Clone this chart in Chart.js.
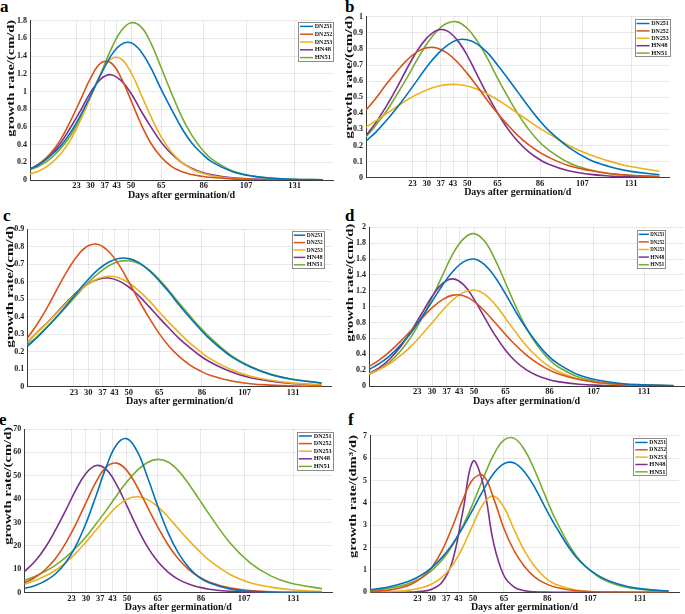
<!DOCTYPE html>
<html>
<head>
<meta charset="utf-8">
<script src="https://cdn.jsdelivr.net/npm/chart.js@4.4.1/dist/chart.umd.min.js"></script>
<style>
body{margin:0;width:685px;height:614px;position:relative;overflow:hidden;background:#fff;font-family:"Liberation Serif",serif}
canvas{position:absolute}
.lt{position:absolute;font-weight:bold;font-size:17px;line-height:17px;color:#000}
</style>
</head>
<body>
<div class="lt" style="left:0px;top:-2px">a</div>
<div class="lt" style="left:345px;top:-2px">b</div>
<div class="lt" style="left:3px;top:207px">c</div>
<div class="lt" style="left:345px;top:207px">d</div>
<div class="lt" style="left:-1px;top:411px">e</div>
<div class="lt" style="left:348px;top:411px">f</div>
<script>
const days = [0,5,10,15,20,25,30,35,40,45,50,55,60,65,70,75,80,85,90,100,110,120,130,145];
const xTickDays = [23,30,37,43,50,65,86,107,131];
const varieties = ["DN251","DN252","DN253","HN48","HN51"];

// panel a
const aDN251 = [0.125,0.184,0.27,0.38,0.535,0.73,0.955,1.19,1.40,1.53,1.55,1.45,1.26,1.02,0.80,0.59,0.42,0.30,0.205,0.097,0.044,0.02,0.009,0.003];
const aDN252 = [0.118,0.19,0.295,0.45,0.665,0.905,1.15,1.32,1.325,1.16,0.90,0.63,0.41,0.257,0.155,0.095,0.062,0.042,0.029,0.013,0.006,0.003,0.001,0];
const aDN253 = [0.067,0.108,0.18,0.29,0.45,0.675,0.935,1.20,1.365,1.37,1.215,0.966,0.71,0.484,0.317,0.203,0.125,0.078,0.048,0.018,0.0065,0.002,0.001,0];
const aHN48 = [0.12,0.188,0.283,0.414,0.59,0.785,0.99,1.14,1.19,1.125,0.98,0.78,0.595,0.425,0.296,0.20,0.134,0.088,0.058,0.025,0.0105,0.004,0.002,0];
const aHN51 = [0.114,0.164,0.24,0.35,0.50,0.695,0.94,1.20,1.47,1.68,1.776,1.73,1.54,1.265,0.985,0.72,0.51,0.35,0.236,0.105,0.045,0.02,0.008,0.0025];
const aTicks = [0,0.2,0.4,0.6,0.8,1,1.2,1.4,1.6,1.8];

// panel b
const bDN251 = [0.227,0.285,0.354,0.43,0.513,0.60,0.688,0.763,0.82,0.855,0.857,0.83,0.777,0.70,0.618,0.533,0.447,0.367,0.297,0.19,0.115,0.07,0.041,0.018];
const bDN252 = [0.42,0.495,0.58,0.657,0.727,0.78,0.807,0.806,0.775,0.72,0.648,0.567,0.48,0.40,0.328,0.263,0.208,0.164,0.128,0.076,0.046,0.026,0.0155,0.007];
const bDN253 = [0.314,0.355,0.397,0.439,0.481,0.516,0.545,0.567,0.578,0.579,0.57,0.549,0.52,0.484,0.443,0.40,0.357,0.314,0.276,0.202,0.145,0.103,0.071,0.04];
const bHN48 = [0.26,0.345,0.443,0.553,0.672,0.782,0.867,0.915,0.912,0.856,0.76,0.637,0.515,0.403,0.305,0.226,0.165,0.119,0.085,0.043,0.022,0.011,0.0055,0.002];
const bHN51 = [0.254,0.328,0.411,0.511,0.615,0.727,0.83,0.91,0.959,0.968,0.928,0.848,0.741,0.619,0.505,0.398,0.307,0.231,0.175,0.094,0.051,0.026,0.0144,0.006];
const bTicks = [0,0.1,0.2,0.3,0.4,0.5,0.6,0.7,0.8,0.9,1];

// panel c
const cDN251 = [0.23,0.282,0.342,0.406,0.474,0.545,0.612,0.669,0.71,0.732,0.731,0.708,0.664,0.604,0.537,0.463,0.395,0.331,0.271,0.176,0.112,0.069,0.043,0.02];
const cDN252 = [0.276,0.359,0.456,0.564,0.667,0.752,0.804,0.812,0.773,0.698,0.598,0.492,0.393,0.303,0.228,0.17,0.125,0.091,0.065,0.034,0.017,0.009,0.0045,0.002];
const cDN253 = [0.255,0.31,0.367,0.426,0.486,0.541,0.586,0.617,0.63,0.622,0.593,0.547,0.491,0.426,0.364,0.306,0.25,0.203,0.16,0.1,0.06,0.037,0.022,0.01];
const cHN48 = [0.254,0.312,0.368,0.429,0.49,0.545,0.587,0.613,0.62,0.604,0.569,0.518,0.457,0.393,0.332,0.273,0.223,0.178,0.141,0.087,0.051,0.031,0.0185,0.0085];
const cHN51 = [0.239,0.288,0.345,0.403,0.467,0.531,0.595,0.647,0.689,0.714,0.719,0.703,0.666,0.612,0.545,0.475,0.406,0.34,0.281,0.182,0.115,0.071,0.044,0.021];
const cTicks = [0,0.1,0.2,0.3,0.4,0.5,0.6,0.7,0.8,0.9];

// panel d
const dDN251 = [0.206,0.285,0.384,0.515,0.672,0.861,1.064,1.27,1.446,1.565,1.6,1.53,1.374,1.16,0.931,0.722,0.541,0.39,0.282,0.138,0.069,0.032,0.016,0.005];
const dDN252 = [0.246,0.33,0.437,0.562,0.70,0.849,0.984,1.088,1.145,1.137,1.067,0.945,0.80,0.649,0.51,0.389,0.291,0.213,0.155,0.081,0.041,0.021,0.011,0.004];
const dDN253 = [0.152,0.21,0.284,0.382,0.50,0.642,0.795,0.951,1.087,1.18,1.21,1.158,1.029,0.855,0.673,0.505,0.369,0.259,0.182,0.086,0.039,0.018,0.008,0.002];
const dHN48 = [0.157,0.232,0.344,0.494,0.689,0.907,1.127,1.292,1.35,1.277,1.095,0.865,0.641,0.452,0.306,0.203,0.132,0.086,0.055,0.022,0.009,0.004,0.001,0];
const dHN51 = [0.146,0.212,0.307,0.442,0.618,0.845,1.11,1.394,1.667,1.855,1.92,1.826,1.597,1.298,0.998,0.73,0.515,0.355,0.242,0.109,0.048,0.021,0.009,0.003];
const dTicks = [0,0.2,0.4,0.6,0.8,1,1.2,1.4,1.6,1.8,2];

// panel e
const eDN251 = [1.85,3.0,4.95,7.9,12.7,19.8,29.6,41.6,54,63.4,65.8,60.4,49.4,37,25.7,17,10.9,6.7,4.3,1.6,0.6,0.2,0.08,0.02];
const eDN252 = [4.2,6.4,9.7,14.4,21,29.1,38.4,47.5,53.8,55.4,52.2,45.2,36.6,28.1,20.5,14.5,10,6.8,4.6,2.05,0.9,0.4,0.17,0.05];
const eDN253 = [3.65,5.1,7.0,9.5,12.7,16.8,21.6,26.8,32.1,36.8,40,41,39.8,36.8,32.4,27.4,22.5,18,13.9,7.9,4.3,2.4,1.27,0.52];
const eHN48 = [9.0,13.2,19,26.5,34.9,43.8,51,54.4,52.6,46.1,37.1,27.8,19.6,13.3,8.8,5.7,3.7,2.4,1.5,0.6,0.24,0.1,0.04,0.01];
const eHN51 = [5.2,6.9,9.0,11.7,15,19.1,23.8,29.5,35.3,41.6,47.4,52.3,55.7,57,55.9,52.2,46.6,40.1,33.6,21.5,12.8,7.2,4.0,1.75];
const eTicks = [0,10,20,30,40,50,60,70];

// panel f
const fDN251 = [0.12,0.175,0.256,0.378,0.535,0.774,1.106,1.56,2.15,2.89,3.71,4.57,5.31,5.75,5.78,5.38,4.68,3.8,2.97,1.58,0.79,0.38,0.175,0.058];
const fDN252 = [0.034,0.062,0.11,0.2,0.364,0.643,1.11,1.87,2.93,4.12,5.05,5.22,4.2,2.85,1.85,1.15,0.68,0.4,0.23,0.07,0.02,0.006,0.002,0];
const fDN253 = [0.008,0.016,0.03,0.057,0.107,0.2,0.37,0.68,1.2,2.01,3.02,3.96,4.3,3.8,2.79,1.85,1.15,0.66,0.36,0.1,0.026,0.007,0.002,0];
const fHN48 = [0,0,0.001,0.004,0.012,0.04,0.137,0.45,1.39,3.58,5.86,4.8,2.2,0.75,0.235,0.07,0.02,0.006,0.002,0,0,0,0,0];
const fHN51 = [0.081,0.125,0.19,0.287,0.44,0.644,0.98,1.44,2.09,2.95,3.98,5.1,6.14,6.8,6.88,6.37,5.44,4.33,3.27,1.65,0.75,0.33,0.145,0.045];
const fTicks = [0,1,2,3,4,5,6,7];

// matlab default line colours
const colors = ["#0072BD","#D95319","#EDB120","#7E2F8E","#77AC30"];

Chart.defaults.font.family = '"Liberation Serif", "Times New Roman", serif';
Chart.defaults.font.weight = "bold";
Chart.defaults.color = "#1a1a1a";

// y title + boxed legend, drawn after the lines
const deco = {
    id: "deco",
    afterDraw(chart, args, o){
        let ctx = chart.ctx;
        let ca = chart.chartArea;
        ctx.save();
        ctx.font = 'bold 10px "Liberation Serif"';
        ctx.fillStyle = "#111";
        ctx.textAlign = "center";
        ctx.textBaseline = "middle";
        ctx.translate(ca.left - o.titleOff, (ca.top + ca.bottom)/2 - o.titleUp);
        ctx.rotate(-Math.PI/2);
        let w = ctx.measureText(o.yTitle).width;
        ctx.scale(o.titleLen / w, 1);
        ctx.fillText(o.yTitle, 0, 0);
        ctx.restore();

        let bx = ca.right - o.legInset - o.legW;
        let by = ca.top + o.legTop;
        ctx.save();
        ctx.fillStyle = "#fff";
        ctx.fillRect(bx, by, o.legW, o.legH);
        ctx.strokeStyle = "#8c8c8c";
        ctx.lineWidth = 1;
        ctx.strokeRect(Math.round(bx)+0.5, Math.round(by)+0.5, Math.round(o.legW), Math.round(o.legH));
        let rowH = o.legH / 5;
        chart.data.datasets.forEach((ds, i) => {
            let y = by + rowH*(i + 0.5) + 0.5;
            ctx.strokeStyle = ds.borderColor;
            ctx.lineWidth = 1.5;
            ctx.beginPath();
            ctx.moveTo(bx + 2, y);
            ctx.lineTo(bx + o.legW*0.43, y);
            ctx.stroke();
            ctx.fillStyle = "#111";
            ctx.font = 'bold 6.5px "Liberation Serif"';
            ctx.textAlign = "left";
            ctx.textBaseline = "middle";
            ctx.fillText(ds.label, bx + o.legW*0.48, y, o.legW*0.5);
        });
        ctx.restore();
    }
};

/**
 * One panel: rect is the plot area [left, top, right, bottom] in page pixels
 */
function panel(rect, series, yTicks, d){
    let L = rect[0], T = rect[1], R = rect[2], B = rect[3];
    let left = Math.max(0, Math.floor(L - 30));
    let top = Math.floor(T - 8);
    let right = Math.min(685, Math.ceil(R + 3));
    let bottom = Math.min(614, Math.round(B + 20.5));
    let cv = document.createElement("canvas");
    cv.width = right - left;
    cv.height = bottom - top;
    cv.style.left = left + "px";
    cv.style.top = top + "px";
    document.body.appendChild(cv);

    new Chart(cv, {
        type: "line",
        data: {
            datasets: series.map((s, i) => ({
                label: varieties[i],
                data: s.map((v, j) => ({x: days[j], y: v})),
                borderColor: colors[i],
                borderWidth: 1.6,
                pointRadius: 0,
                tension: 0.4,
                fill: false
            }))
        },
        options: {
            responsive: false,
            animation: false,
            layout: {padding: {left: 0, top: T - top, right: right - R, bottom: 0}},
            plugins: {legend: {display: false}, tooltip: {enabled: false}, deco: d},
            scales: {
                x: {
                    type: "linear",
                    min: 0,
                    max: 150,
                    afterBuildTicks: ax => { ax.ticks = xTickDays.map(v => ({value: v})); },
                    afterFit: ax => { ax.height = bottom - B; },
                    grid: {color: "rgba(0,0,0,0.09)", drawTicks: false},
                    border: {display: true, color: "#3a3a3a", width: 1},
                    ticks: {padding: 1, font: {size: 8.5, weight: "bold"}, color: "#1a1a1a", maxRotation: 0, callback: v => String(v)},
                    title: {display: true, text: "Days after germination/d", font: {size: 10, weight: "bold"}, color: "#111", padding: 0}
                },
                y: {
                    min: 0,
                    max: yTicks[yTicks.length - 1],
                    afterBuildTicks: ax => { ax.ticks = yTicks.map(v => ({value: v})); },
                    afterFit: ax => { ax.width = L - left; },
                    grid: {color: "rgba(0,0,0,0.09)", drawTicks: false},
                    border: {display: true, color: "#3a3a3a", width: 1},
                    ticks: {padding: 3, font: {size: 8, weight: "bold"}, color: "#1a1a1a", callback: v => String(v)}
                }
            }
        },
        plugins: [deco]
    });
}

const cmTitle = "growth rate/(cm/d)";

panel([30, 20.7, 333, 180], [aDN251, aDN252, aDN253, aHN48, aHN51], aTicks,
    {yTitle: cmTitle, titleOff: 18.2, titleUp: 22, titleLen: 117, legInset: 0, legW: 35, legTop: 1.3, legH: 39});
panel([366, 16.7, 669.5, 177.7], [bDN251, bDN252, bDN253, bHN48, bHN51], bTicks,
    {yTitle: cmTitle, titleOff: 16.3, titleUp: 20, titleLen: 123, legInset: 0, legW: 35, legTop: 2.6, legH: 37});
panel([27.3, 229, 331.8, 386.7], [cDN251, cDN252, cDN253, cHN48, cHN51], cTicks,
    {yTitle: cmTitle, titleOff: 17.1, titleUp: 21, titleLen: 122, legInset: 8.5, legW: 31.6, legTop: 2, legH: 37});
panel([369, 227.3, 684, 386], [dDN251, dDN252, dDN253, dHN48, dHN51], dTicks,
    {yTitle: cmTitle, titleOff: 18.8, titleUp: 24, titleLen: 118, legInset: 19, legW: 28.3, legTop: 2.7, legH: 38});
panel([24.3, 429, 332.3, 592.7], [eDN251, eDN252, eDN253, eHN48, eHN51], eTicks,
    {yTitle: cmTitle, titleOff: 15.8, titleUp: 25, titleLen: 118, legInset: 0, legW: 35.6, legTop: 2.7, legH: 38});
panel([370, 435.7, 679, 592.3], [fDN251, fDN252, fDN253, fHN48, fHN51], fTicks,
    {yTitle: "growth rate/(dm\u00B3/d)", titleOff: 16.3, titleUp: 17.5, titleLen: 123, legInset: 12.3, legW: 33.4, legTop: 2.6, legH: 36.7});
</script>
</body>
</html>
